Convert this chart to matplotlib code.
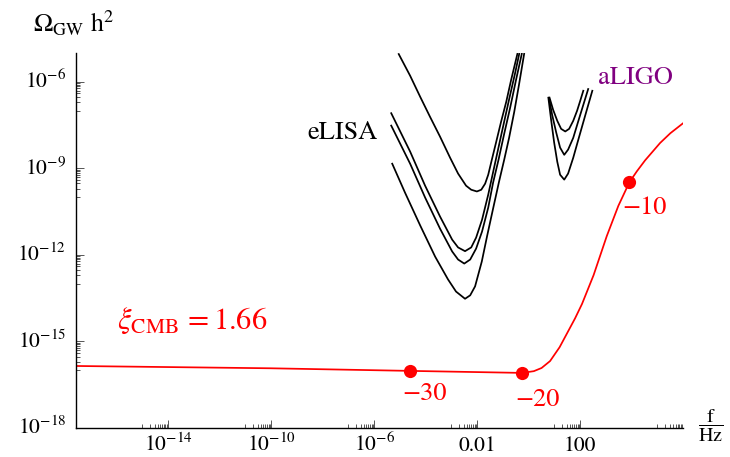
import numpy as np
import matplotlib
matplotlib.use("Agg")
import matplotlib.pyplot as plt

plt.rcParams['font.family'] = 'STIXGeneral'
plt.rcParams['mathtext.fontset'] = 'stix'

# curves given as log10(f/Hz), log10(Omega h^2)
xi_logf = [-17.57, -10.0, -4.6, -0.26, 0.2, 0.5, 0.83, 1.2, 1.5, 1.8, 2.07,
           2.52, 3.03, 3.48, 3.91, 4.2, 4.52, 5.1, 5.5, 6.0]
xi_logo = [-15.85, -15.93, -16.02, -16.09, -16.03, -15.92, -15.68, -15.2, -14.7,
           -14.2, -13.7, -12.7, -11.35, -10.3, -9.48, -9.1, -8.72, -8.12, -7.78, -7.43]

# marked points on the red curve and their labels
dot_logf = [-4.6, -0.26, 3.91]
dot_logo = [-16.02, -16.09, -9.48]
dot_text = ["\u221230", "\u221220", "\u221210"]
dot_text_logf = [-4.06, 0.33, 4.49]
dot_text_logo = [-16.83, -17.04, -10.36]

# eLISA sensitivity curves
lisa_a_f = [-5.06, -4.60, -4.21, -3.83, -3.44, -3.05, -2.74, -2.43, -2.23, -2.01,
            -1.84, -1.69, -1.57, -1.43, -1.26, -1.07, -0.87, -0.68, -0.43]
lisa_a_o = [-5.01, -5.79, -6.52, -7.21, -7.90, -8.63, -9.18, -9.60, -9.74, -9.80,
            -9.74, -9.53, -9.22, -8.70, -8.08, -7.38, -6.69, -5.93, -5.0]
lisa_b_f = [-5.35, -4.60, -4.02, -3.44, -2.97, -2.74, -2.47, -2.23, -2.04, -1.81,
            -1.57, -1.30, -1.03, -0.76, -0.52, -0.36]
lisa_b_o = [-7.06, -8.42, -9.60, -10.67, -11.47, -11.74, -11.87, -11.74, -11.40,
            -10.78, -9.91, -8.80, -7.70, -6.61, -5.67, -5.0]
lisa_c_f = [-5.35, -4.60, -4.02, -3.44, -2.97, -2.74, -2.50, -2.27, -2.04, -1.81,
            -1.57, -1.38, -1.17, -0.95, -0.72, -0.49, -0.26]
lisa_c_o = [-7.49, -8.84, -10.01, -11.09, -11.88, -12.16, -12.30, -12.16, -11.78,
            -11.19, -10.36, -9.49, -8.70, -7.80, -6.90, -5.93, -5.0]
lisa_d_f = [-5.31, -4.80, -4.21, -3.63, -3.13, -2.82, -2.47, -2.27, -2.08, -1.82,
            -1.61, -1.38, -1.15, -0.95, -0.76, -0.56, -0.37, -0.17]
lisa_d_o = [-8.81, -9.84, -10.98, -12.06, -12.85, -13.27, -13.52, -13.40, -13.09,
            -12.23, -11.33, -10.39, -9.46, -8.70, -7.94, -7.04, -6.07, -5.0]

# aLIGO sensitivity curves
ligo_a_f = [0.80, 0.95, 1.11, 1.26, 1.42, 1.57, 1.73, 1.88, 2.00, 2.13]
ligo_a_o = [-6.52, -6.97, -7.35, -7.63, -7.72, -7.63, -7.35, -7.00, -6.66, -6.28]
ligo_b_f = [0.78, 0.91, 1.07, 1.22, 1.38, 1.53, 1.73, 1.92, 2.12, 2.32]
ligo_b_o = [-6.52, -7.14, -7.76, -8.28, -8.53, -8.35, -7.94, -7.38, -6.80, -6.22]
ligo_c_f = [0.76, 0.87, 0.99, 1.11, 1.22, 1.38, 1.53, 1.73, 1.96, 2.19, 2.48]
ligo_c_o = [-6.52, -7.31, -8.11, -8.77, -9.22, -9.39, -9.18, -8.63, -7.90, -7.18, -6.28]

xtick_exp = [-14, -10, -6, -2, 2]
xtick_lab = ["$10^{-14}$", "$10^{-10}$", "$10^{-6}$", "0.01", "100"]
ytick_exp = [-18, -15, -12, -9, -6]
ytick_lab = ["$10^{-18}$", "$10^{-15}$", "$10^{-12}$", "$10^{-9}$", "$10^{-6}$"]

def p(v):
    return 10.0 ** np.array(v)

fig = plt.figure(figsize=(7.3, 4.57), dpi=100)
ax = fig.add_axes([76/730, 1 - 428/457, (683-76)/730, (428-53)/457])

for fx, fy in [(lisa_a_f, lisa_a_o), (lisa_b_f, lisa_b_o), (lisa_c_f, lisa_c_o),
               (lisa_d_f, lisa_d_o), (ligo_a_f, ligo_a_o), (ligo_b_f, ligo_b_o),
               (ligo_c_f, ligo_c_o)]:
    ax.plot(p(fx), p(fy), color='black', lw=1.25, solid_capstyle='butt')

ax.plot(p(xi_logf), p(xi_logo), color='red', lw=1.25)
ax.plot(p(dot_logf), p(dot_logo), 'o', color='red', ms=9.5, mec='none')
for t, x, y in zip(dot_text, dot_text_logf, dot_text_logo):
    ax.text(10**x, 10**y, t, color='red', fontsize=19, ha='center', va='center')

ax.text(10**-7.24, 10**-7.76, "eLISA", fontsize=19, ha='center', va='center')
ax.text(10**4.14, 10**-5.86, "aLIGO", fontsize=19, color='#800080', ha='center', va='center')
ax.text(10**-13.07, 10**-14.3, r"$\xi_{\mathrm{CMB}}\,=1.66$", fontsize=22, color='red',
        ha='center', va='center')

ax.set_xscale('log')
ax.set_yscale('log')
ax.set_xlim(10**-17.57, 10**5.99)
ax.set_ylim(1e-18, 1e-5)

ax.set_xticks(p(xtick_exp))
ax.set_xticklabels(xtick_lab)
ax.set_yticks(p(ytick_exp))
ax.set_yticklabels(ytick_lab)
xminor = [k * 10.0**(m - 1) for m in xtick_exp + [6] for k in range(1, 10)]
yminor = [k * 10.0**(m - 1) for m in ytick_exp[1:] for k in range(1, 10)]
ax.set_xticks(xminor, minor=True)
ax.set_yticks(yminor, minor=True)
ax.xaxis.set_minor_formatter(plt.NullFormatter())
ax.yaxis.set_minor_formatter(plt.NullFormatter())

ax.tick_params(which='both', direction='in', color='#555555', width=0.7, labelsize=15.5)
ax.tick_params(which='major', length=5.5)
ax.tick_params(which='minor', length=2.8)
ax.tick_params(axis='x', pad=16.5)
ax.tick_params(axis='y', pad=7)
for lab in ax.get_xticklabels():
    lab.set_verticalalignment('baseline')
for lab in ax.get_yticklabels():
    lab.set_verticalalignment('center')

for s in ['top', 'right']:
    ax.spines[s].set_visible(False)
for s in ['left', 'bottom']:
    ax.spines[s].set_linewidth(1.0)

fig.text(33/730, 1 - 32/457, r"$\Omega_{\mathrm{GW}}\ \mathrm{h}^2$", fontsize=18.5,
         ha='left', va='baseline')
fig.text(711/730, 1 - 426/457, r"$\dfrac{\mathrm{f}}{\mathrm{Hz}}$", fontsize=14.5,
         ha='center', va='center')

fig.savefig("out.png", dpi=100)
